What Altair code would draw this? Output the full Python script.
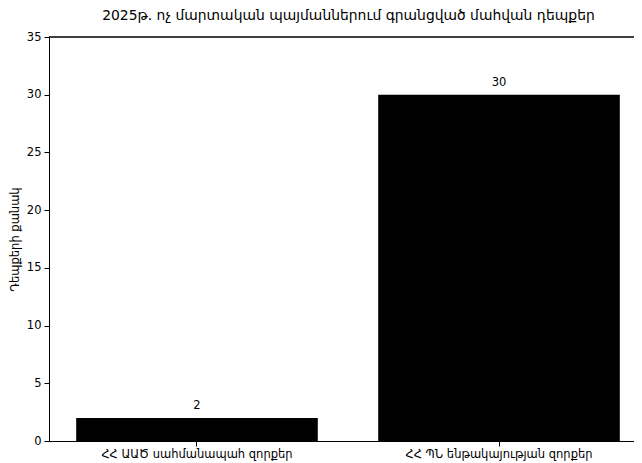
import altair as alt
import pandas as pd

categories = ["ՀՀ ԱԱԾ սահմանապահ զորքեր", "ՀՀ ՊՆ ենթակայության զորքեր"]
values = [2, 30]
title_text = "2025թ. ոչ մարտական պայմաններում գրանցված մահվան դեպքեր"
y_title = "Դեպքերի քանակ"
y_ticks = [0, 5, 10, 15, 20, 25, 30, 35]

df = pd.DataFrame({"cat": categories, "val": values})
FONT = "DejaVu Sans"
FS = 11.5

xenc = alt.X("cat:N", sort=categories, title=None,
             scale=alt.Scale(range=[0, 598], paddingInner=0.2, paddingOuter=0.09),
             axis=alt.Axis(labelAngle=0, labelFontSize=FS, labelFont=FONT, labelColor="black",
                           tickSize=5, tickColor="black", domainColor="black",
                           labelPadding=2, labelLimit=0))
yenc = alt.Y("val:Q", title=y_title,
             scale=alt.Scale(domain=[0, 35], nice=False),
             axis=alt.Axis(values=y_ticks, grid=False, labelFontSize=FS, labelFont=FONT,
                           labelColor="black", tickSize=5, tickColor="black",
                           domainColor="black", titleFont=FONT, titleFontSize=FS,
                           titleFontWeight="normal", titleColor="black", titlePadding=6,
                           labelPadding=3))

bars = alt.Chart(df).mark_bar(color="black").encode(x=xenc, y=yenc)
labels = alt.Chart(df).mark_text(baseline="alphabetic", dy=-9, fontSize=FS, font=FONT,
                                 color="black").encode(x=xenc, y=yenc, text="val:Q")
top = alt.Chart(df).mark_rule(color="black", strokeWidth=1).encode(
    y=alt.datum(35), x=alt.value(0), x2=alt.value(598))

chart = alt.layer(bars, labels, top).properties(
    width=585, height=404,
    autosize=alt.AutoSizeParams(type="none"),
    padding={"left": 41, "top": 29, "right": 0, "bottom": 20},
    title=alt.TitleParams(title_text, font=FONT, fontSize=13.9, fontWeight="normal",
                          color="black", offset=8, dx=7),
).configure_view(stroke=None)

chart.save("out.html", embed_options={"renderer": "svg", "actions": False})
